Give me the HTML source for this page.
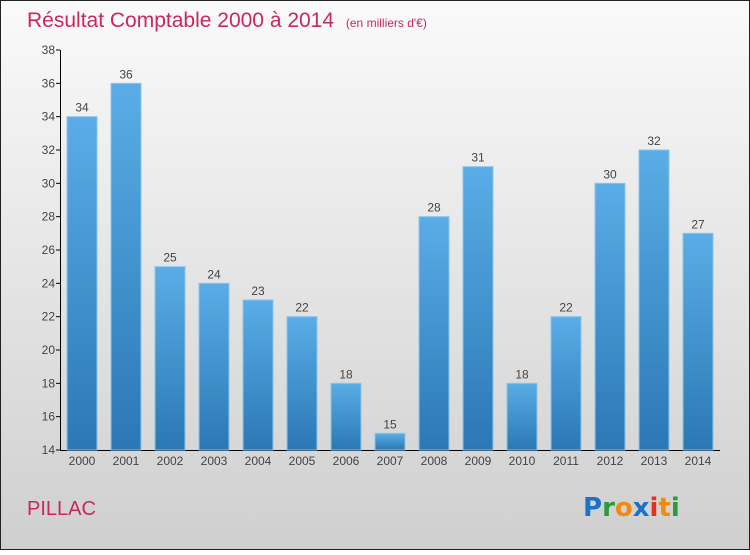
<!DOCTYPE html>
<html><head><meta charset="utf-8"><style>
body{margin:0;width:750px;height:550px;overflow:hidden;font-family:"Liberation Sans",sans-serif}
</style></head><body>
<svg width="750" height="550" xmlns="http://www.w3.org/2000/svg">
<defs>
<linearGradient id="bg" x1="0" y1="0" x2="0" y2="1"><stop offset="0" stop-color="#fafafa"/><stop offset="1" stop-color="#cfcfcf"/></linearGradient>
<linearGradient id="bar" x1="0" y1="0" x2="0" y2="1"><stop offset="0" stop-color="#5aade6"/><stop offset="1" stop-color="#2a78b4"/></linearGradient>
</defs>
<rect x="0.5" y="0.5" width="749" height="549" fill="url(#bg)" stroke="#222"/>
<text x="27" y="27" font-size="21" fill="#c8285a">Résultat Comptable 2000 à 2014 <tspan font-size="12" dx="6">(en milliers d'€)</tspan></text>
<g id="yaxis"></g>
<g id="bars"></g>
<text x="27" y="515" font-size="20" fill="#c8285a">PILLAC</text>
<g font-size="26" font-family="'DejaVu Sans',sans-serif" font-weight="bold">
<text x="583" y="516"><tspan fill="#1a73c8">P</tspan><tspan fill="#2a9a3a">r</tspan><tspan fill="#f08a10">o</tspan><tspan fill="#1a73c8">x</tspan><tspan fill="#e53020">i</tspan><tspan fill="#f08a10">t</tspan><tspan fill="#2a9a3a">i</tspan></text>
</g>
</svg>
<script>
const years=["2000","2001","2002","2003","2004","2005","2006","2007","2008","2009","2010","2011","2012","2013","2014"];
const values=[34,36,25,24,23,22,18,15,28,31,18,22,30,32,27];
const yTicks=[14,16,18,20,22,24,26,28,30,32,34,36,38];
const NS="http://www.w3.org/2000/svg";
const yMin=14,yMax=38,plotTop=50,plotBot=450;
function y(v){return plotBot-(v-yMin)/(yMax-yMin)*(plotBot-plotTop);}
function x(i){return 67+i*44;}
function mk(t,a,p,txt){const e=document.createElementNS(NS,t);for(const k in a)e.setAttribute(k,a[k]);if(txt!==undefined)e.textContent=txt;p.appendChild(e);return e;}
const ya=document.getElementById('yaxis'),bg=document.getElementById('bars');
yTicks.forEach(v=>{
 const l=mk('line',{x1:56,x2:60,y1:y(v),y2:y(v),stroke:'#000'},ya);
 
 
 const t=mk('text',{x:55,y:y(v)+4,'text-anchor':'end','font-size':12,fill:'#444'},ya,v);
 
 
});
values.forEach((v,i)=>{
 const r=mk('rect',{x:x(i),y:y(v),width:30,height:plotBot-y(v),fill:'url(#bar)',stroke:'#8cc4ee','stroke-width':1},bg);
 
 
 const t=mk('text',{x:x(i)+15,y:y(v)-5,'text-anchor':'middle','font-size':12,fill:'#444'},bg,v);
 
 
 const xl=mk('text',{x:x(i)+15,y:465,'text-anchor':'middle','font-size':12,fill:'#444'},bg,years[i]);
 
 
});
const ax=mk('path',{d:'M60.5 50 V450.5 H720',stroke:'#000',fill:'none'},ya);


</script>
</body></html>
